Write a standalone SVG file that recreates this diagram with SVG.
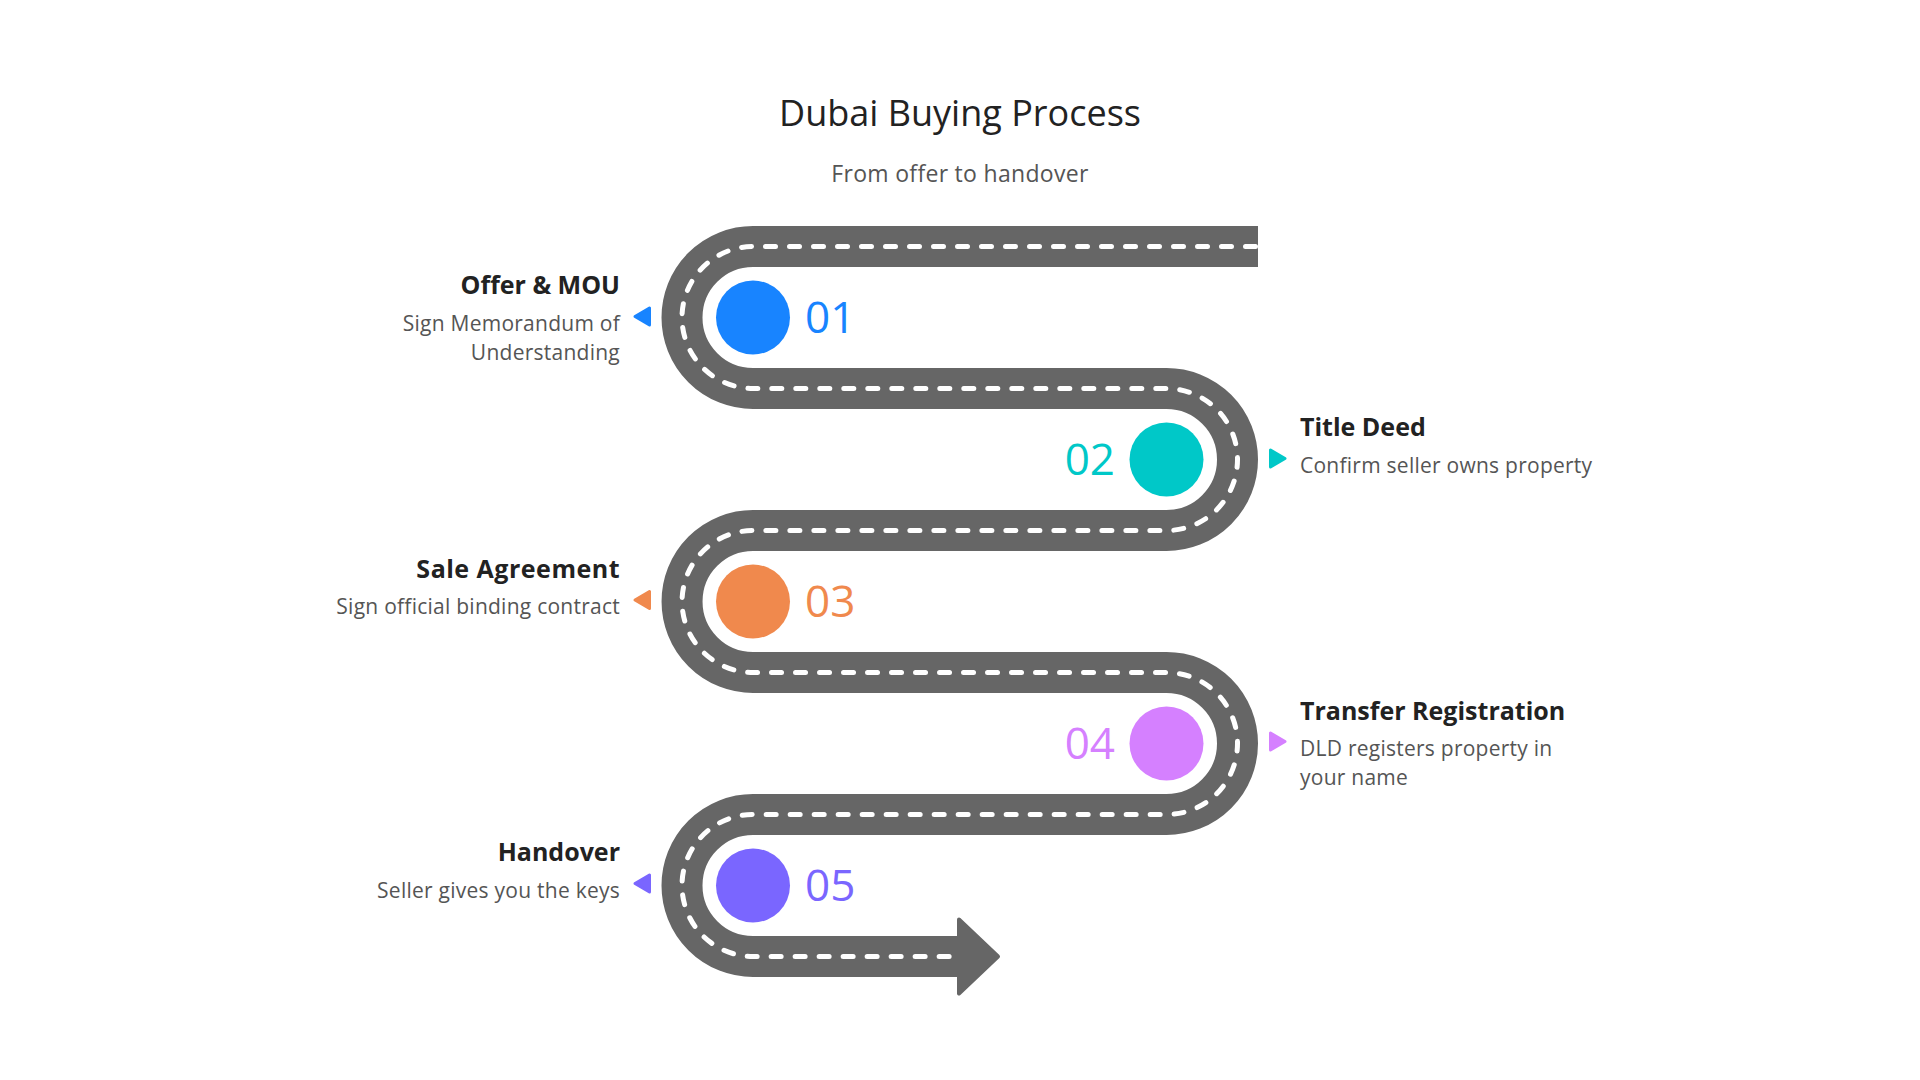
<svg xmlns="http://www.w3.org/2000/svg" width="1920" height="1080" viewBox="0 0 1920 1080">
<style>
text{font-family:"Open Sans","Noto Sans","Liberation Sans",sans-serif}
.title{font-size:36px;fill:#222;text-anchor:middle}
.sub{font-size:23px;fill:#555;text-anchor:middle;letter-spacing:0.3px}
.h{font-size:25px;font-weight:700;fill:#222}
.d{font-size:21px;fill:#555;letter-spacing:0.25px}
.num{font-size:44px}
.l{text-anchor:end}
.r{text-anchor:start}
.road{fill:none;stroke:#666;stroke-width:41;stroke-linejoin:round}
.dash{fill:none;stroke:#fff;stroke-width:5;stroke-dasharray:10 14;stroke-linecap:round}
.tri{stroke-width:3;stroke-linejoin:round}
</style>
<rect width="1920" height="1080" fill="#fff"/>
<g id="header">
<text class="title" x="960" y="126">Dubai Buying Process</text>
<text class="sub" x="960" y="182">From offer to handover</text>
</g>
<g id="connectors">
<path class="road" d="M1258 246.5H753A71 71 0 0 0 753 388.5H1166.5A71 71 0 0 1 1166.5 530.5H753A71 71 0 0 0 753 672.5H1166.5A71 71 0 0 1 1166.5 814.5H753A71 71 0 0 0 753 956.5H960"/>
<polygon points="959,919.5 998,956.5 959,993.5" fill="#666" stroke="#666" stroke-width="4" stroke-linejoin="round"/>
<path class="dash" d="M1255.5 246.5H753A71 71 0 0 0 753 388.5H1166.5A71 71 0 0 1 1166.5 530.5H753A71 71 0 0 0 753 672.5H1166.5A71 71 0 0 1 1166.5 814.5H753A71 71 0 0 0 753 956.5H962"/>
</g>
<g id="step1">
<circle cx="753" cy="317.5" r="37" fill="#1884ff"/>
<text class="num r" x="805" y="333" fill="#1884ff">01</text>
<polygon class="tri" points="635,316.5 649.5,308 649.5,325" fill="#1884ff" stroke="#1884ff"/>
<text class="h l" x="620" y="294">Offer &amp; MOU</text>
<text class="d l" x="620" y="331">Sign Memorandum of</text>
<text class="d l" x="620" y="360">Understanding</text>
</g>
<g id="step2">
<circle cx="1166.5" cy="459.5" r="37" fill="#00c8c8"/>
<text class="num l" x="1115" y="475" fill="#00c8c8">02</text>
<polygon class="tri" points="1285,458.5 1270.5,450 1270.5,467" fill="#00c8c8" stroke="#00c8c8"/>
<text class="h r" x="1300" y="436">Title Deed</text>
<text class="d r" x="1300" y="473">Confirm seller owns property</text>
</g>
<g id="step3">
<circle cx="753" cy="601.5" r="37" fill="#f0894d"/>
<text class="num r" x="805" y="617" fill="#f0894d">03</text>
<polygon class="tri" points="635,600 649.5,591.5 649.5,608.5" fill="#f0894d" stroke="#f0894d"/>
<text class="h l" x="620" y="578" style="letter-spacing:0.5px">Sale Agreement</text>
<text class="d l" x="620" y="614">Sign official binding contract</text>
</g>
<g id="step4">
<circle cx="1166.5" cy="743.5" r="37" fill="#d580ff"/>
<text class="num l" x="1115" y="759" fill="#d580ff">04</text>
<polygon class="tri" points="1285,741.5 1270.5,733 1270.5,750" fill="#d580ff" stroke="#d580ff"/>
<text class="h r" x="1300" y="719.5">Transfer Registration</text>
<text class="d r" x="1300" y="756">DLD registers property in</text>
<text class="d r" x="1300" y="784.5">your name</text>
</g>
<g id="step5">
<circle cx="753" cy="885.5" r="37" fill="#7a66ff"/>
<text class="num r" x="805" y="901" fill="#7a66ff">05</text>
<polygon class="tri" points="635,883.5 649.5,875 649.5,892" fill="#7a66ff" stroke="#7a66ff"/>
<text class="h l" x="620" y="861">Handover</text>
<text class="d l" x="620" y="898">Seller gives you the keys</text>
</g>
</svg>
